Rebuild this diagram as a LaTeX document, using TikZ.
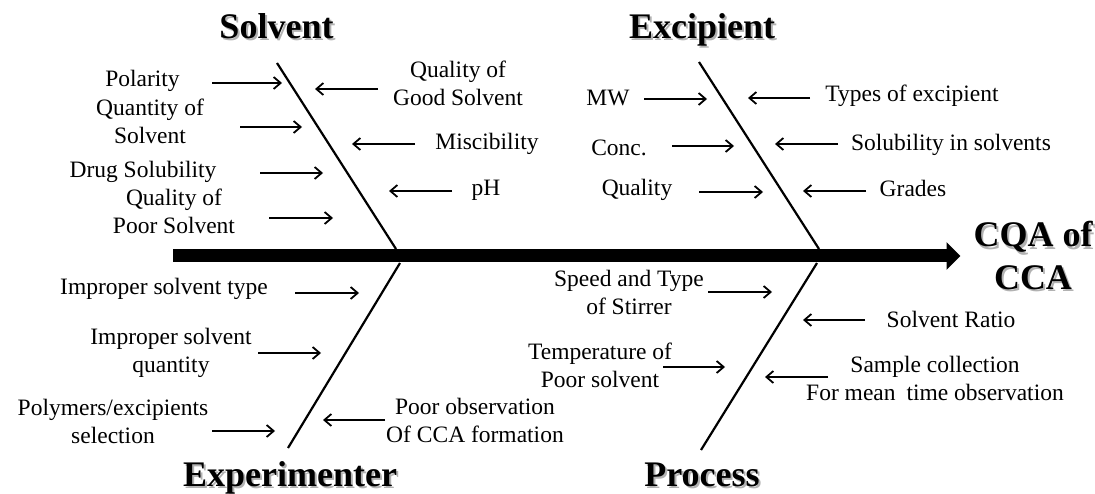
\documentclass[tikz,border=0pt]{standalone}
\usepackage{fontspec}
\setmainfont{Liberation Serif}
\newfontfamily\tnrfont{Liberation Serif}
\usetikzlibrary{arrows.meta}
\tikzset{
  lbl/.style={inner sep=0pt, outer sep=0pt, align=center, anchor=base, font=\tnrfont\fontsize{23.5}{28}\selectfont},
  ttl/.style={inner sep=0pt, outer sep=0pt, align=center, anchor=base, font=\tnrfont\bfseries\fontsize{36}{43}\selectfont},
  shd/.style={ttl, text=black!30},
  cause/.style={line width=1.8pt, -{Straight Barb[length=7pt,width=12pt,line width=1.8pt]}},
  bone/.style={line width=2.2pt},
  spine/.style={line width=13pt, -{Triangle[length=14pt,width=27pt]}, shorten >=-0.5pt}
}
\begin{document}
\begin{tikzpicture}[x=1pt,y=-1pt]
\useasboundingbox (0,0) rectangle (1095,494);
% titles with shadow
\node[shd] (solvS) at (278.5,40.5) {Solvent};
\node[ttl] (solv) at (276.5,38.5) {Solvent};
\node[shd] (excS) at (704,40.5) {Excipient};
\node[ttl] (exc) at (702,38.5) {Excipient};
\node[shd] (expS) at (292,488) {Experimenter};
\node[ttl] (exp) at (290,486) {Experimenter};
\node[shd] (proS) at (704,488) {Process};
\node[ttl] (pro) at (702,486) {Process};
\node[shd] (cqaS) at (1035,292) {CQA of\\CCA};
\node[ttl] (cqa) at (1033,290) {CQA of\\CCA};
% spine
\coordinate (spL) at (173,256);
\coordinate (spR) at (960,256);
\draw[spine] (spL) -- (spR);
% bones
\coordinate (b1t) at (277,63);  \coordinate (b1b) at (396,249);
\coordinate (b2t) at (699,62);  \coordinate (b2b) at (819,249);
\coordinate (b3t) at (400,263); \coordinate (b3b) at (288,448);
\coordinate (b4t) at (817,263); \coordinate (b4b) at (701,450);
\draw[bone] (b1t) -- (b1b);
\draw[bone] (b2t) -- (b2b);
\draw[bone] (b3t) -- (b3b);
\draw[bone] (b4t) -- (b4b);
% labels (multi-line: y is the baseline of the last line)
\node[lbl] (t1) at (142.5,87) {Polarity};
\node[lbl] (t2) at (150,144) {Quantity of\\Solvent};
\node[lbl] (t3) at (143,178) {Drug Solubility};
\node[lbl] (t4) at (174,234) {Quality of\\Poor Solvent};
\node[lbl] (t5) at (458,106) {Quality of\\Good Solvent};
\node[lbl] (t6) at (487,150) {Miscibility};
\node[lbl] (t7) at (486,196) {pH};
\node[lbl] (t8) at (608,106) {MW};
\node[lbl] (t9) at (619,156) {Conc.};
\node[lbl] (t10) at (637,196) {Quality};
\node[lbl] (t11) at (912,102) {Types of excipient};
\node[lbl] (t12) at (951,151) {Solubility in solvents};
\node[lbl] (t13) at (913,197) {Grades};
\node[lbl] (t14) at (164,295) {Improper solvent type};
\node[lbl] (t15) at (171,372) {Improper solvent\\quantity};
\node[lbl] (t16) at (113,443) {Polymers/excipients\\selection};
\node[lbl] (t17) at (475,442) {Poor observation\\Of CCA formation};
\node[lbl] (t18) at (629,315) {Speed and Type\\of Stirrer};
\node[lbl] (t19) at (600,387) {Temperature of\\Poor solvent};
\node[lbl] (t20) at (951,327) {Solvent Ratio};
\node[lbl] (t21) at (935,400) {Sample collection\\For mean\hspace{5pt} time observation};
% arrow end points
\coordinate (a1s) at (212,83);  \coordinate (a1e) at (282,83);
\coordinate (a2s) at (240,127); \coordinate (a2e) at (302,127);
\coordinate (a3s) at (260,173); \coordinate (a3e) at (323,173);
\coordinate (a4s) at (269,218); \coordinate (a4e) at (333,218);
\coordinate (a5s) at (378,89);  \coordinate (a5e) at (315,89);
\coordinate (a6s) at (415,144); \coordinate (a6e) at (352,144);
\coordinate (a7s) at (452,191); \coordinate (a7e) at (389,191);
\coordinate (a8s) at (644,99);  \coordinate (a8e) at (707,99);
\coordinate (a9s) at (672,146); \coordinate (a9e) at (734,146);
\coordinate (a10s) at (699,192); \coordinate (a10e) at (763,192);
\coordinate (a11s) at (810,98);  \coordinate (a11e) at (748,98);
\coordinate (a12s) at (838,144); \coordinate (a12e) at (775,144);
\coordinate (a13s) at (866,191); \coordinate (a13e) at (803,191);
\coordinate (a14s) at (295,293); \coordinate (a14e) at (359,293);
\coordinate (a15s) at (258,353); \coordinate (a15e) at (321,353);
\coordinate (a16s) at (212,431); \coordinate (a16e) at (275,431);
\coordinate (a17s) at (385,420); \coordinate (a17e) at (323,420);
\coordinate (a18s) at (708,292); \coordinate (a18e) at (772,292);
\coordinate (a19s) at (663,367); \coordinate (a19e) at (725,367);
\coordinate (a20s) at (865,320); \coordinate (a20e) at (803,320);
\coordinate (a21s) at (828,377); \coordinate (a21e) at (765,377);
\foreach \i in {1,...,21} {\draw[cause] (a\i s) -- (a\i e);}
\end{tikzpicture}
\end{document}
